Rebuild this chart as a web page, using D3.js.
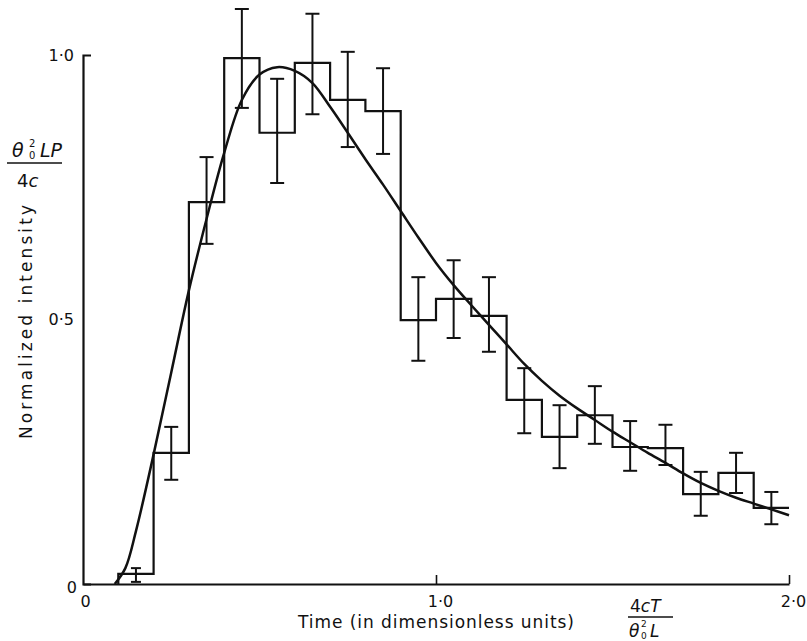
<!DOCTYPE html>
<html>
<head>
<meta charset="utf-8">
<script src="https://cdn.jsdelivr.net/npm/d3@7"></script>
<style>
  html, body { margin: 0; padding: 0; background: #fff; }
  svg { display: block; }
  text { font-family: "DejaVu Sans", "Open Sans", sans-serif; fill: #111; }
</style>
</head>
<body>
<svg id="chart" width="807" height="641"></svg>
<script>
// ---- Data ----
// Histogram bins (left edge of each 0.1-wide bin)
const binStart = [0.1,0.2,0.3,0.4,0.5,0.6,0.7,0.8,0.9,1.0,1.1,1.2,1.3,1.4,1.5,1.6,1.7,1.8,1.9];
const binValue = [0.019,0.248,0.722,0.994,0.853,0.985,0.915,0.894,0.499,0.539,0.507,0.348,0.278,0.319,0.259,0.257,0.170,0.210,0.144];
const errLow   = [0.004,0.197,0.643,0.900,0.758,0.888,0.826,0.813,0.422,0.465,0.439,0.285,0.219,0.265,0.214,0.225,0.129,0.172,0.113];
const errHigh  = [0.030,0.297,0.807,1.087,0.955,1.078,1.006,0.975,0.580,0.612,0.580,0.408,0.338,0.374,0.308,0.301,0.212,0.248,0.174];
const binWidth = 0.1;

// Theoretical curve
const curveT = [0.09,0.12,0.15,0.2,0.25,0.3,0.35,0.4,0.45,0.5,0.55,0.6,0.65,0.7,0.75,0.8,0.85,0.9,0.95,1.0,1.05,1.1,1.15,1.2,1.25,1.3,1.35,1.4,1.45,1.5,1.55,1.6,1.65,1.7,1.75,1.8,1.85,1.9,1.95,2.0];
const curveV = [0,0.03,0.10,0.245,0.40,0.555,0.69,0.815,0.915,0.963,0.977,0.970,0.947,0.902,0.853,0.803,0.755,0.705,0.655,0.607,0.565,0.527,0.490,0.453,0.416,0.384,0.356,0.332,0.310,0.288,0.268,0.248,0.229,0.209,0.191,0.176,0.163,0.152,0.141,0.130];

// Axis ticks
const xTicks = [0, 1.0, 2.0];
const xTickLabels = ["0", "1·0", "2·0"];
const yTicks = [0, 0.5, 1.0];
const yTickLabels = ["0", "0·5", "1·0"];

// ---- Chart ----
const svg = d3.select("#chart");
const x = d3.scaleLinear().domain([0, 2]).range([83, 789]);
const y = d3.scaleLinear().domain([0, 1]).range([584, 55]);

const ink = "#111";

// X axis
const xAxis = d3.axisBottom(x)
  .tickValues(xTicks)
  .tickFormat((d, i) => xTickLabels[i])
  .tickSizeInner(-9)
  .tickSizeOuter(0)
  .tickPadding(12);
const gx = svg.append("g").attr("transform", `translate(0,${y(0)})`).call(xAxis);
gx.select(".domain").attr("stroke", ink).attr("stroke-width", 2.2);
gx.selectAll(".tick line").attr("stroke", ink).attr("stroke-width", 1.6);
gx.selectAll(".tick").filter(d => d === 0).select("line").remove();
gx.selectAll(".tick text").attr("font-size", 16).attr("fill", ink)
  .attr("font-family", "DejaVu Sans, sans-serif")
  .attr("dx", (d) => d === 0 ? 2 : 4);

// Y axis
const yAxis = d3.axisLeft(y)
  .tickValues(yTicks)
  .tickFormat((d, i) => yTickLabels[i])
  .tickSizeInner(0)
  .tickSizeOuter(-8)
  .tickPadding(9);
const gy = svg.append("g").attr("transform", `translate(${x(0)},0)`).call(yAxis);
gy.select(".domain").attr("stroke", ink).attr("stroke-width", 2.2).attr("fill", "none");
gy.selectAll(".tick text").attr("font-size", 16).attr("fill", ink)
  .attr("font-family", "DejaVu Sans, sans-serif")
  .attr("dy", (d) => d === 0 ? "0.55em" : "0.32em")
  .attr("dx", (d) => d === 0 ? 3 : 0);

// Histogram step outline
const stepPts = [[binStart[0], 0]];
binStart.forEach((s, i) => {
  stepPts.push([s, binValue[i]]);
  stepPts.push([s + binWidth, binValue[i]]);
});
const lineXY = d3.line().x(d => x(d[0])).y(d => y(d[1]));
svg.append("path")
  .attr("d", lineXY(stepPts))
  .attr("fill", "none")
  .attr("stroke", ink)
  .attr("stroke-width", 2.2)
  .attr("stroke-linejoin", "miter");

// Error bars
const eb = svg.append("g").attr("stroke", ink).attr("stroke-width", 2);
binStart.forEach((s, i) => {
  const cx = x(s + binWidth / 2);
  const cap = i === 0 ? 5 : 7;
  eb.append("line").attr("x1", cx).attr("x2", cx).attr("y1", y(errLow[i])).attr("y2", y(errHigh[i]));
  eb.append("line").attr("x1", cx - cap).attr("x2", cx + cap).attr("y1", y(errHigh[i])).attr("y2", y(errHigh[i]));
  eb.append("line").attr("x1", cx - cap).attr("x2", cx + cap).attr("y1", y(errLow[i])).attr("y2", y(errLow[i]));
});

// Theoretical curve
const curveLine = d3.line()
  .x((d, i) => x(curveT[i]))
  .y((d) => y(d))
  .curve(d3.curveCatmullRom.alpha(0.5));
svg.append("path")
  .attr("d", curveLine(curveV))
  .attr("fill", "none")
  .attr("stroke", ink)
  .attr("stroke-width", 2.5);

// Axis titles
svg.append("text")
  .attr("transform", "translate(32,322) rotate(-90)")
  .attr("text-anchor", "middle")
  .attr("font-size", 17)
  .attr("textLength", 234)
  .attr("lengthAdjust", "spacing")
  .text("Normalized intensity");

svg.append("text")
  .attr("x", 298).attr("y", 628)
  .attr("font-size", 17)
  .attr("textLength", 276)
  .attr("lengthAdjust", "spacing")
  .text("Time (in dimensionless units)");

// Y quantity label: θ0² L P / 4c
const yq = svg.append("g");
yq.append("text").attr("x", 12).attr("y", 157).attr("font-size", 19).attr("font-style", "italic").text("θ");
yq.append("text").attr("x", 29).attr("y", 147).attr("font-size", 10).text("2");
yq.append("text").attr("x", 29).attr("y", 159).attr("font-size", 10).text("0");
yq.append("text").attr("x", 40).attr("y", 157).attr("font-size", 19).attr("font-style", "italic").text("LP");
yq.append("line").attr("x1", 7).attr("x2", 62).attr("y1", 163).attr("y2", 163).attr("stroke", ink).attr("stroke-width", 1.6);
yq.append("text").attr("x", 17).attr("y", 187).attr("font-size", 18).text("4").append("tspan").attr("font-style", "italic").text("c");

// X quantity label: 4cT / θ0² L
const xq = svg.append("g");
xq.append("text").attr("x", 630).attr("y", 612).attr("font-size", 17).text("4")
  .append("tspan").attr("font-style", "italic").text("cT");
xq.append("line").attr("x1", 628).attr("x2", 673).attr("y1", 617).attr("y2", 617).attr("stroke", ink).attr("stroke-width", 1.6);
xq.append("text").attr("x", 629).attr("y", 637).attr("font-size", 17).attr("font-style", "italic").text("θ");
xq.append("text").attr("x", 641).attr("y", 627).attr("font-size", 9).text("2");
xq.append("text").attr("x", 641).attr("y", 639).attr("font-size", 9).text("0");
xq.append("text").attr("x", 650).attr("y", 637).attr("font-size", 17).attr("font-style", "italic").text("L");
</script>
</body>
</html>
